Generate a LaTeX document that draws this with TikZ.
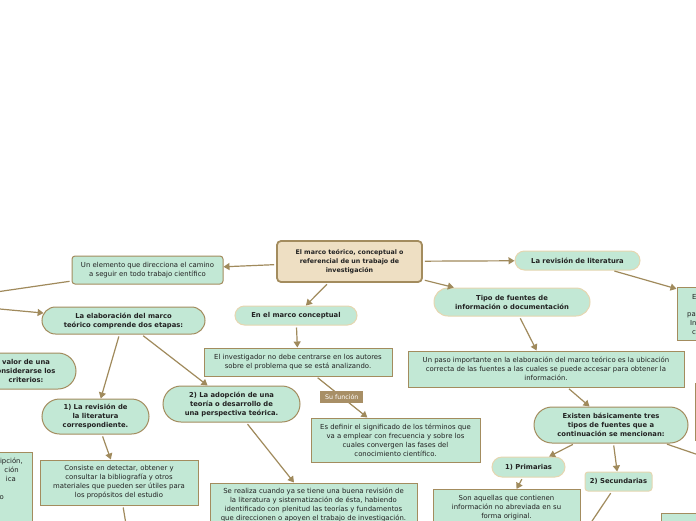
\documentclass[tikz,border=0pt]{standalone}
\usepackage{fontspec}
\setmainfont{DejaVu Sans}
\usetikzlibrary{arrows.meta, positioning, shapes.misc}
\definecolor{mint}{HTML}{C2E8D5}
\definecolor{edgedark}{HTML}{A38C5E}
\definecolor{edgesoft}{HTML}{E6D6B0}
\definecolor{rootfill}{HTML}{EEDFC3}
\definecolor{linkcol}{HTML}{A08A5C}
\definecolor{tagfill}{HTML}{A88F66}
\definecolor{inkcol}{HTML}{222222}

\begin{document}
\begin{tikzpicture}[x=1pt, y=-1pt,
  txt/.style={font=\fontsize{6.9}{9}\selectfont, text=inkcol, align=center},
  box/.style={txt, draw=edgedark, fill=mint, line width=1pt, inner sep=1pt},
  pill/.style={box, rounded rectangle, font=\fontsize{6.8}{9}\selectfont\bfseries},
  softpill/.style={pill, draw=edgesoft},
  root/.style={box, fill=rootfill, draw=edgedark, line width=1.8pt, rounded corners=4pt,
               font=\fontsize{6.3}{9.3}\selectfont\bfseries},
  arr/.style={-{Triangle[length=6pt,width=7pt]}, draw=linkcol, line width=1.2pt, shorten <=2pt},
  link/.style={draw=linkcol, line width=1.2pt, shorten <=2pt},
  tag/.style={fill=tagfill, text=white, font=\fontsize{6.3}{7}\selectfont, inner sep=2pt,
              minimum width=43pt, minimum height=12pt},
]
\useasboundingbox (0,0) rectangle (696,520);
\clip (0,0) rectangle (696,520);
\fill[white] (0,0) rectangle (696,520);

% centre and first level
\node[root, minimum width=145pt, minimum height=41pt] (root) at (349.5,261.5)
  {El marco teórico, conceptual o\\referencial de un trabajo de\\investigación};
\node[box, rounded corners=3pt, minimum width=151pt, minimum height=28pt] (camino) at (147.5,270)
  {Un elemento que direcciona el camino\\a seguir en todo trabajo científico};
\node[softpill, minimum width=124pt, minimum height=19pt] (concep) at (296,315.5) {En el marco conceptual};
\node[softpill, minimum width=127pt, minimum height=19pt] (litrev) at (577.5,260.5) {La revisión de literatura};
\node[softpill, minimum width=158pt, minimum height=28pt] (tipos) at (512,302)
  {Tipo de fuentes de\\información o documentación};

% left branch
\node[pill, minimum width=165pt, minimum height=27pt] (etapas) at (123.5,320.5)
  {La elaboración del marco\\teórico comprende dos etapas:};
\node[pill, minimum width=102pt, minimum height=36pt] (criterios) at (26,371)
  {valor de una\\onsiderarse los\\criterios:};
\node[pill, minimum width=109pt, minimum height=35pt] (etapa1) at (95.5,416.5)
  {1) La revisión de\\la literatura\\correspondiente.};
\node[pill, minimum width=139pt, minimum height=36pt] (etapa2) at (231.5,404)
  {2) La adopción de una\\teoría o desarrollo de\\una perspectiva teórica.};
\node[box, minimum width=158pt, minimum height=45pt] (consiste) at (119,482.5)
  {Consiste en detectar, obtener y\\consultar la bibliografía y otros\\materiales que pueden ser útiles para\\los propósitos del estudio};
\node[box, minimum width=207pt, minimum height=48pt, text depth=6pt] (realiza) at (313.5,507)
  {Se realiza cuando ya se tiene una buena revisión de\\la literatura y sistematización de ésta, habiendo\\identificado con plenitud las teorías y fundamentos\\que direccionen o apoyen el trabajo de investigación.};
\node[box, minimum width=144pt, minimum height=96pt] (leftbox) at (-40,500) {};
\node[txt, align=right, anchor=north east, inner sep=0pt] (lefttxt) at (23,458)
  {ipción,\\ción\rule{4pt}{0pt}\\ica\rule{7pt}{0pt}\\[9pt]o\rule{19pt}{0pt}};

% conceptual branch
\node[box, minimum width=188pt, minimum height=28pt] (autores) at (298,362)
  {El investigador no debe centrarse en los autores\\sobre el problema que se está analizando.};
\node[box, minimum width=169pt, minimum height=44pt] (definir) at (395.5,440)
  {Es definir el significado de los términos que\\va a emplear con frecuencia y sobre los\\cuales convergen las fases del\\conocimiento científico.};

% sources branch
\node[box, minimum width=276pt, minimum height=36pt] (paso) at (546,369)
  {Un paso importante en la elaboración del marco teórico es la ubicación\\correcta de las fuentes a las cuales se puede accesar para obtener la\\información.};
\node[pill, minimum width=156pt, minimum height=36pt] (tres) at (611,425)
  {Existen básicamente tres\\tipos de fuentes que a\\continuación se mencionan:};
\node[softpill, minimum width=75pt, minimum height=20pt] (prim) at (528.5,467) {1) Primarias};
\node[box, draw=edgesoft, rounded corners=3pt, font=\fontsize{6.8}{9}\selectfont\bfseries,
      minimum width=67pt, minimum height=19pt] (secu) at (618.5,481.5) {2) Secundarias};
\node[box, minimum width=147pt, minimum height=36pt, anchor=north] (aquellas) at (506.5,489)
  {Son aquellas que contienen\\información no abreviada en su\\forma original.};

% boxes cut by the right edge
\node[box, minimum width=172pt, minimum height=53pt] (rbox) at (763,313.5) {};
\node[txt, align=left, anchor=north west, inner sep=0pt] (rboxtxt) at (687,294)
  {\rule{5pt}{0pt}E\\[8.5pt]pa\\\rule{3pt}{0pt}In\\\rule{5pt}{0pt}c};
\node[box, minimum width=130pt, minimum height=57pt] (rbox2) at (760,411.5) {};
\node[box, minimum width=118pt, minimum height=54pt] (rbox3) at (720,540) {};

\coordinate (offa) at (-100,306);
\coordinate (offb) at (-100,299.7);
\coordinate (offc) at (132,560);
\coordinate (offd) at (566,560);
\coordinate (offe) at (760,476);

\draw[arr] (root) -- (camino);
\draw[arr] (root) -- (concep);
\draw[arr] (root) -- (litrev);
\draw[arr] (root) -- (tipos);
\draw[link] (camino) -- (offa);
\draw[arr] (offb) -- (etapas);
\draw[arr] (etapas) -- (etapa1);
\draw[arr] (etapas) -- (etapa2);
\draw[arr] (etapa1) -- (consiste);
\draw[link] (consiste) -- (offc);
\draw[arr] (etapa2) -- (realiza);
\draw[arr] (concep) -- (autores);
\draw[arr] (autores) -- node[tag] (funcion) {Su función} (definir);
\draw[arr] (litrev) -- (rbox);
\draw[arr] (tipos) -- (paso);
\draw[arr] (paso) -- (tres);
\draw[arr] (tres) -- (prim);
\draw[arr] (tres) -- (secu);
\draw[link] (tres) -- (offe);
\draw[arr] (prim) -- (aquellas);
\draw[link] (secu) -- (offd);
\end{tikzpicture}
\end{document}
